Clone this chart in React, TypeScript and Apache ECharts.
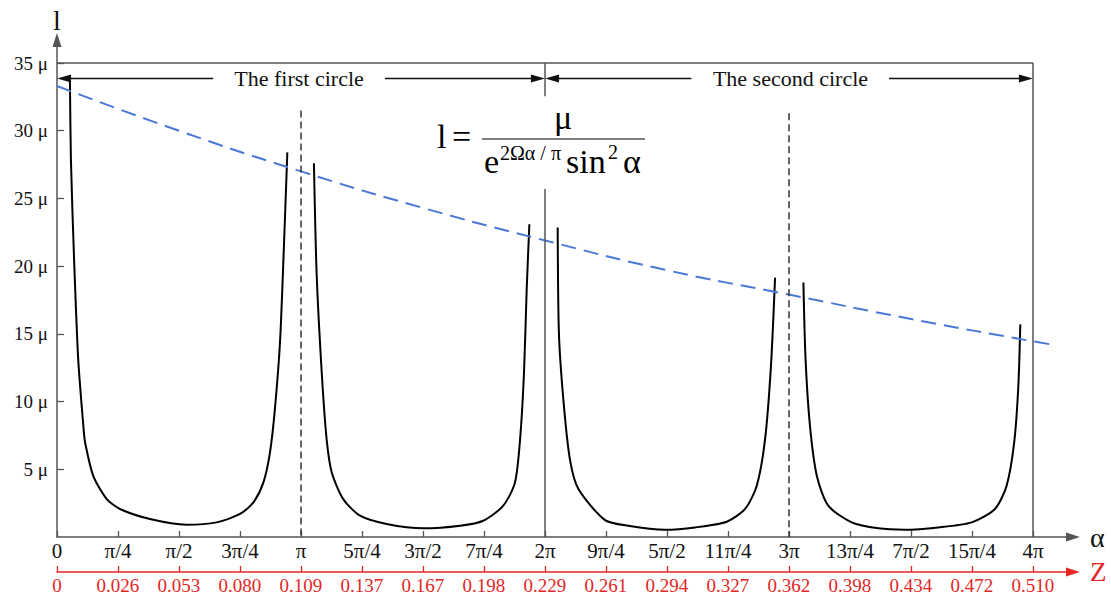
import { useEffect, useRef } from "react";
import * as echarts from "echarts";

// ---- data (alpha in units of π, l in units of μ) ----
const alphaTickLabels = ["0", "π/4", "π/2", "3π/4", "π", "5π/4", "3π/2", "7π/4", "2π", "9π/4", "5π/2", "11π/4", "3π", "13π/4", "7π/2", "15π/4", "4π"];
const zTickLabels = ["0", "0.026", "0.053", "0.080", "0.109", "0.137", "0.167", "0.198", "0.229", "0.261", "0.294", "0.327", "0.362", "0.398", "0.434", "0.472", "0.510"];
const lTicks = [5, 10, 15, 20, 25, 30, 35];

const arc1Alpha = [0.053, 0.057, 0.070, 0.087, 0.108, 0.115, 0.149, 0.204, 0.258, 0.381, 0.531, 0.654, 0.75, 0.805, 0.846, 0.873, 0.893, 0.914, 0.928, 0.944];
const arc1L = [33.7, 27.9, 20.5, 13.1, 8.2, 7.0, 4.5, 2.8, 2.07, 1.33, 0.91, 1.08, 1.7, 2.56, 4.03, 6.25, 9.44, 14.4, 20.5, 28.4];

const arc2Alpha = [1.053, 1.064, 1.085, 1.105, 1.126, 1.173, 1.242, 1.351, 1.501, 1.652, 1.747, 1.829, 1.877, 1.898, 1.914, 1.925, 1.936];
const arc2L = [27.6, 19.5, 12.15, 7.23, 4.77, 2.8, 1.57, 0.96, 0.64, 0.83, 1.2, 2.31, 4.03, 7.23, 12.15, 18.3, 23.1];

const arc3Alpha = [2.052, 2.057, 2.075, 2.102, 2.137, 2.246, 2.341, 2.492, 2.615, 2.745, 2.82, 2.868, 2.902, 2.926, 2.943];
const arc3L = [22.85, 15.1, 10.2, 5.75, 3.54, 1.25, 0.83, 0.54, 0.71, 1.13, 2.07, 3.79, 7.23, 12.6, 19.15];

const arc4Alpha = [3.059, 3.068, 3.086, 3.114, 3.161, 3.257, 3.366, 3.475, 3.612, 3.749, 3.844, 3.892, 3.923, 3.94, 3.948];
const arc4L = [18.8, 13.1, 8.2, 4.52, 2.31, 1.08, 0.64, 0.54, 0.71, 1.08, 2.07, 3.79, 6.98, 11.16, 15.7];

const envelopeAlpha = [0, 0.5, 1, 1.5, 2, 2.5, 3, 3.5, 4, 4.098];
const envelopeL = [33.3, 30.0, 27.0, 24.3, 21.9, 19.7, 17.9, 16.1, 14.45, 14.15];

const circleLabels = ["The first circle", "The second circle"];
const circleLabelAlpha = [0.992, 3.006];
const circleArrowL = 33.86;

// ---- styles ----
const FONT = '"Liberation Serif", "Times New Roman", serif';
const AXIS = "#555555";
const RED = "#e32626";
const BLUE = "#4a78d6";

const tickValues = alphaTickLabels.map((_, i) => i / 4);
const pairs = (xs: number[], ys: number[]) => xs.map((x, i) => [x, ys[i]]);

export default function App() {
  const ref = useRef<HTMLDivElement>(null);
  useEffect(() => {
    const chart = echarts.init(ref.current!, null, { renderer: "svg" });
    const arcSeries = [
      pairs(arc1Alpha, arc1L),
      pairs(arc2Alpha, arc2L),
      pairs(arc3Alpha, arc3L),
      pairs(arc4Alpha, arc4L),
    ].map((d) => ({
      type: "line",
      data: d,
      showSymbol: false,
      smooth: 0.25,
      silent: true,
      lineStyle: { color: "#000", width: 2 },
      z: 3,
    }));

    const arrowHead = { symbol: "triangle", symbolSize: [8, 14] };
    const thin = { color: "#111", width: 1.3, type: "solid" };
    const dashed = { color: "#333", width: 1.5, type: [7, 4] };
    const off = 0.029;

    const option: any = {
      animation: false,
      backgroundColor: "#fff",
      grid: { left: 57, right: 38, top: 40, bottom: 59, containLabel: false, outerBoundsMode: "none" },
      xAxis: [
        {
          type: "value",
          min: 0,
          max: 4.164,
          position: "bottom",
          splitLine: { show: false },
          axisLine: { show: true, lineStyle: { color: AXIS, width: 1.5 }, symbol: ["none", "triangle"], symbolSize: [9, 14] },
          axisTick: { show: true, inside: true, length: 6, customValues: tickValues, lineStyle: { color: AXIS, width: 1.3 } },
          axisLabel: {
            customValues: tickValues,
            formatter: (v: number) => alphaTickLabels[Math.round(v * 4)] ?? "",
            color: "#111",
            fontSize: 21,
            fontFamily: FONT,
            margin: 3,
          },
          name: "α",
          nameLocation: "end",
          nameGap: 17,
          nameTextStyle: { color: "#111", fontSize: 28, fontFamily: FONT },
        },
        {
          type: "value",
          min: 0,
          max: 4.164,
          position: "bottom",
          offset: 35,
          splitLine: { show: false },
          axisLine: { show: true, lineStyle: { color: RED, width: 1.5 }, symbol: ["none", "triangle"], symbolSize: [9, 14] },
          axisTick: { show: true, inside: true, length: 6, customValues: tickValues, lineStyle: { color: RED, width: 1.3 } },
          axisLabel: {
            customValues: tickValues,
            formatter: (v: number) => zTickLabels[Math.round(v * 4)] ?? "",
            color: RED,
            fontSize: 19,
            fontFamily: FONT,
            margin: 4,
          },
          name: "Z",
          nameLocation: "end",
          nameGap: 17,
          nameTextStyle: { color: RED, fontSize: 27, fontFamily: FONT },
        },
      ],
      yAxis: {
        type: "value",
        min: 0,
        max: 36.7,
        splitLine: { show: false },
        axisLine: { show: true, lineStyle: { color: AXIS, width: 1.5 }, symbol: ["none", "triangle"], symbolSize: [9, 14] },
        axisTick: { show: true, inside: true, length: 7, customValues: lTicks, lineStyle: { color: AXIS, width: 1.3 } },
        axisLabel: {
          customValues: lTicks,
          formatter: (v: number) => `${v} μ`,
          color: "#111",
          fontSize: 19,
          fontFamily: FONT,
          margin: 9,
        },
        name: "l",
        nameLocation: "end",
        nameGap: 6,
        nameTextStyle: { color: "#111", fontSize: 28, fontFamily: FONT, align: "center" },
      },
      series: [
        ...arcSeries,
        {
          type: "line",
          data: pairs(envelopeAlpha, envelopeL),
          showSymbol: false,
          smooth: true,
          silent: true,
          lineStyle: { color: BLUE, width: 2, type: [15, 8] },
          z: 4,
        },
        {
          type: "line",
          data: [],
          silent: true,
          markLine: {
            silent: true,
            symbol: ["none", "none"],
            label: { show: false },
            emphasis: { disabled: true },
            lineStyle: { color: AXIS, width: 1.5, type: "solid" },
            data: [
              [{ coord: [0, 35] }, { coord: [4, 35] }],
              [{ coord: [4, 35] }, { coord: [4, 0] }],
              [{ coord: [2, 35] }, { coord: [2, 32.55] }],
              [{ coord: [2, 25.7] }, { coord: [2, 0] }],
              [{ coord: [1, 31.5], lineStyle: dashed }, { coord: [1, 0] }],
              [{ coord: [3, 31.3], lineStyle: dashed }, { coord: [3, 0] }],
              [{ coord: [off, circleArrowL], ...arrowHead, lineStyle: thin }, { coord: [0.64, circleArrowL] }],
              [{ coord: [1.344, circleArrowL], lineStyle: thin }, { coord: [2 - off, circleArrowL], ...arrowHead }],
              [{ coord: [2 + off, circleArrowL], ...arrowHead, lineStyle: thin }, { coord: [2.6, circleArrowL] }],
              [{ coord: [3.41, circleArrowL], lineStyle: thin }, { coord: [4 - off, circleArrowL], ...arrowHead }],
            ],
          },
          markPoint: {
            silent: true,
            symbol: "circle",
            symbolSize: 0,
            label: {
              show: true,
              position: "inside",
              formatter: (p: any) => p.name,
              color: "#111",
              fontSize: 22,
              fontFamily: FONT,
            },
            data: circleLabels.map((name, i) => ({ name, coord: [circleLabelAlpha[i], circleArrowL] })),
          },
        },
      ],
      graphic: [
        {
          type: "group",
          z: 100,
          silent: true,
          children: [
            { type: "text", style: { text: "l", x: 437, y: 136, fontSize: 34, fontFamily: FONT, fill: "#000", align: "left", verticalAlign: "middle" } },
            { type: "text", style: { text: "=", x: 452, y: 136, fontSize: 34, fontFamily: FONT, fill: "#000", align: "left", verticalAlign: "middle" } },
            { type: "line", shape: { x1: 482, y1: 139, x2: 645, y2: 139 }, style: { stroke: "#000", lineWidth: 1.2 } },
            { type: "text", style: { text: "μ", x: 563, y: 117, fontSize: 34, fontFamily: FONT, fill: "#000", align: "center", verticalAlign: "middle" } },
            { type: "text", style: { text: "e", x: 484, y: 161, fontSize: 34, fontFamily: FONT, fill: "#000", align: "left", verticalAlign: "middle" } },
            { type: "text", style: { text: "2Ωα / π", x: 500, y: 153, fontSize: 20, fontFamily: FONT, fill: "#000", align: "left", verticalAlign: "middle" } },
            { type: "text", style: { text: "sin", x: 566, y: 161, fontSize: 34, fontFamily: FONT, fill: "#000", align: "left", verticalAlign: "middle" } },
            { type: "text", style: { text: "2", x: 608, y: 152, fontSize: 20, fontFamily: FONT, fill: "#000", align: "left", verticalAlign: "middle" } },
            { type: "text", style: { text: "α", x: 623, y: 161, fontSize: 34, fontFamily: FONT, fill: "#000", align: "left", verticalAlign: "middle" } },
          ],
        },
      ],
    };
    chart.setOption(option);
    return () => chart.dispose();
  }, []);
  return (
    <div
      ref={ref}
      style={{ position: "fixed", left: 0, top: 0, width: 1111, height: 596, background: "#fff" }}
    />
  );
}
